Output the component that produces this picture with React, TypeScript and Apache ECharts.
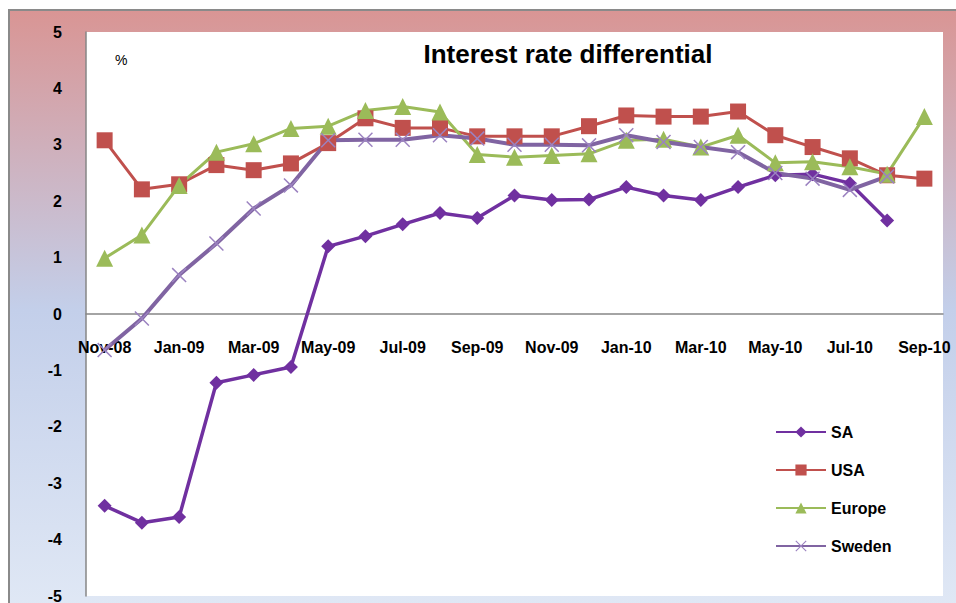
import React, { useEffect, useRef } from "react";
import * as echarts from "echarts";

const months = ["Nov-08","Dec-08","Jan-09","Feb-09","Mar-09","Apr-09","May-09","Jun-09","Jul-09","Aug-09","Sep-09","Oct-09","Nov-09","Dec-09","Jan-10","Feb-10","Mar-10","Apr-10","May-10","Jun-10","Jul-10","Aug-10","Sep-10"];
const saValues = [-3.4,-3.7,-3.6,-1.22,-1.08,-0.94,1.2,1.38,1.59,1.79,1.7,2.1,2.02,2.03,2.25,2.1,2.02,2.25,2.46,2.48,2.32,1.66,null];
const usaValues = [3.08,2.21,2.3,2.64,2.55,2.67,3.03,3.47,3.3,3.3,3.15,3.15,3.15,3.33,3.52,3.5,3.5,3.59,3.17,2.96,2.76,2.46,2.4];
const europeValues = [0.99,1.4,2.28,2.87,3.02,3.29,3.33,3.61,3.68,3.58,2.83,2.78,2.81,2.84,3.08,3.1,2.96,3.17,2.68,2.7,2.61,2.48,3.5];
const swedenValues = [-0.64,-0.08,0.69,1.25,1.87,2.28,3.08,3.09,3.09,3.17,3.11,3.0,3.0,2.99,3.17,3.05,2.96,2.87,2.5,2.4,2.2,2.44,null];

const FONT = "Liberation Sans";
const crossPath = "path://M0,0.7L0.7,0L5,4.3L9.3,0L10,0.7L5.7,5L10,9.3L9.3,10L5,5.7L0.7,10L0,9.3L4.3,5Z";

export default function App() {
  const ref = useRef<HTMLDivElement>(null);
  useEffect(() => {
    const chart = echarts.init(ref.current!, null, { renderer: "svg" });
    chart.setOption({
      animation: false,
      textStyle: { fontFamily: FONT },
      graphic: [
        {
          type: "rect",
          z: -10,
          shape: { x: 9, y: 10, width: 960, height: 600 },
          style: {
            fill: new echarts.graphic.LinearGradient(0, 0, 0, 1, [
              { offset: 0, color: "#d99594" },
              { offset: 0.5, color: "#c3cfea" },
              { offset: 1, color: "#e0e8f5" },
            ]),
            stroke: "#8a8a8a",
            lineWidth: 2,
          },
        },
        {
          type: "text",
          x: 115,
          y: 53,
          style: { text: "%", fontSize: 14, fill: "#000", fontFamily: FONT },
        },
      ],
      title: {
        text: "Interest rate differential",
        left: 563,
        textAlign: "center",
        top: 36,
        textStyle: { fontSize: 26, fontWeight: "bold", color: "#000", fontFamily: FONT },
      },
      grid: {
        left: 86,
        top: 32,
        width: 857,
        height: 564,
        show: true,
        backgroundColor: "#ffffff",
        borderWidth: 0,
        containLabel: false,
        outerBoundsMode: "none",
      },
      legend: {
        orient: "vertical",
        left: 770,
        top: 419,
        itemGap: 22,
        itemWidth: 50,
        itemHeight: 14,
        textStyle: { fontSize: 16, fontWeight: "bold", color: "#000", fontFamily: FONT },
        data: ["SA", "USA", "Europe", "Sweden"],
      },
      xAxis: {
        type: "category",
        data: months,
        boundaryGap: true,
        position: "bottom",
        offset: -282,
        axisLine: { onZero: false, lineStyle: { color: "#868686", width: 1.5 } },
        axisTick: { show: false },
        axisLabel: {
          interval: 1,
          margin: 25,
          fontSize: 16,
          fontWeight: "bold",
          color: "#000",
          fontFamily: FONT,
        },
        splitLine: { show: false },
      },
      yAxis: {
        type: "value",
        min: -5,
        max: 5,
        interval: 1,
        axisLine: { show: true, lineStyle: { color: "#868686", width: 1.5 } },
        axisTick: { show: false },
        splitLine: { show: false },
        axisLabel: { margin: 24, fontSize: 16, fontWeight: "bold", color: "#000", fontFamily: FONT },
      },
      series: [
        {
          name: "SA",
          type: "line",
          data: saValues,
          symbol: "diamond",
          symbolSize: 14,
          color: "#7030a0",
          lineStyle: { width: 3.5, color: "#7030a0" },
          itemStyle: { color: "#7030a0" },
        },
        {
          name: "USA",
          type: "line",
          data: usaValues,
          symbol: "rect",
          symbolSize: 16,
          color: "#c0504d",
          lineStyle: { width: 3, color: "#c0504d" },
          itemStyle: { color: "#c0504d" },
        },
        {
          name: "Europe",
          type: "line",
          data: europeValues,
          symbol: "triangle",
          symbolSize: 17,
          color: "#9bbb59",
          lineStyle: { width: 3, color: "#9bbb59" },
          itemStyle: { color: "#9bbb59" },
        },
        {
          name: "Sweden",
          type: "line",
          data: swedenValues,
          symbol: crossPath,
          symbolSize: 15,
          color: "#8064a2",
          lineStyle: { width: 4, color: "#8064a2" },
          itemStyle: { color: "#9b82c0" },
        },
      ],
    });
    return () => chart.dispose();
  }, []);
  return (
    <div
      ref={ref}
      style={{ position: "absolute", left: 0, top: 0, width: 956, height: 603 }}
    />
  );
}
